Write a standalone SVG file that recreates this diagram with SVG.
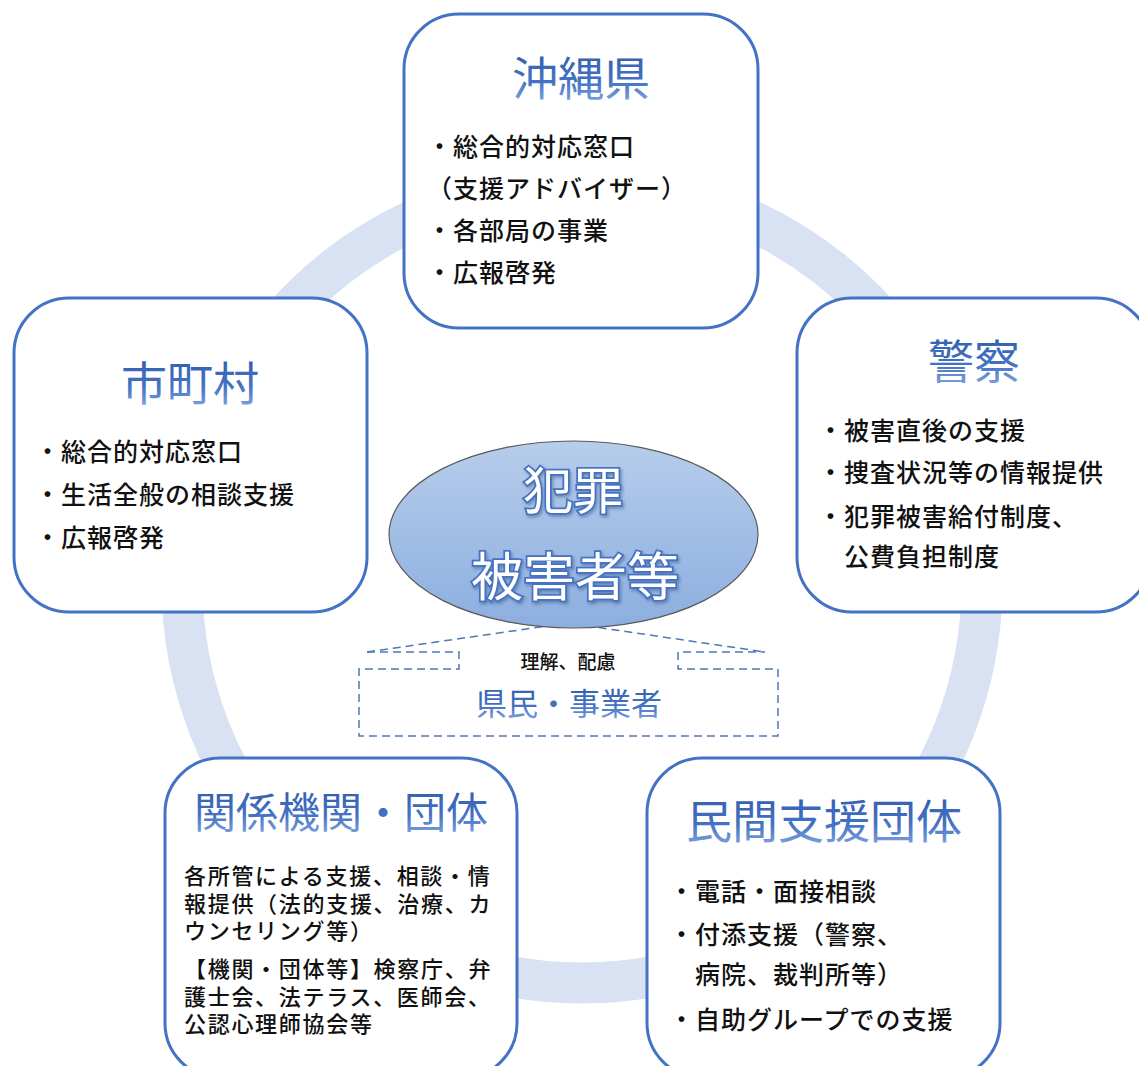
<svg xmlns="http://www.w3.org/2000/svg" width="1139" height="1066" viewBox="0 0 1139 1066">
<defs>
<linearGradient id="tg" x1="0" y1="0" x2="0" y2="1">
<stop offset="0" stop-color="#2c57a6"/>
<stop offset="0.6" stop-color="#4472c4"/>
<stop offset="1" stop-color="#8fb0e3"/>
</linearGradient>
<linearGradient id="eg" x1="0" y1="0" x2="0" y2="1">
<stop offset="0" stop-color="#b7cdeb"/>
<stop offset="1" stop-color="#8caee0"/>
</linearGradient>
<filter id="sh" x="-10%" y="-10%" width="130%" height="140%">
<feDropShadow dx="1.5" dy="2" stdDeviation="1.5" flood-color="#1f3864" flood-opacity="0.4"/>
</filter>
<style>
.box{fill:#fff;stroke:#4472c4;stroke-width:3}
.title{font-family:"Noto Sans CJK JP","Noto Sans CJK SC",sans-serif;fill:url(#tg);text-anchor:middle}
.body{font-family:"Noto Sans CJK JP","Noto Sans CJK SC",sans-serif;font-size:25px;font-weight:500;letter-spacing:1px;fill:#111}
.small{font-family:"Noto Sans CJK JP","Noto Sans CJK SC",sans-serif;font-size:22px;font-weight:500;letter-spacing:1.7px;fill:#111}
.center{font-family:"Noto Sans CJK JP","Noto Sans CJK SC",sans-serif;fill:#fff;stroke:#4472c4;stroke-width:3.5;paint-order:stroke;text-anchor:middle}
.dash{fill:none;stroke:#4f78b8;stroke-width:1.5;stroke-dasharray:8 5}
</style>
</defs>
<rect width="1139" height="1066" fill="#fff"/>
<circle cx="582" cy="583" r="400" fill="none" stroke="#d8e2f3" stroke-width="41"/>

<g id="connectors">
<path class="dash" d="M367,652 L568,623 L765,652"/>
<path class="dash" d="M367,652 H459 V669 H359 V736 H778 V669 H678 V652 H765"/>
</g>

<g id="okinawa">
<rect class="box" x="404" y="14" width="354" height="314" rx="55"/>
<text class="title" x="581" y="95" font-size="46">沖縄県</text>
<text class="body" x="427" y="156">・総合的対応窓口</text>
<text class="body" x="427" y="198">（支援アドバイザー）</text>
<text class="body" x="427" y="240">・各部局の事業</text>
<text class="body" x="427" y="282">・広報啓発</text>
</g>

<g id="shichoson">
<rect class="box" x="14" y="298" width="353" height="314" rx="55"/>
<text class="title" x="190" y="400" font-size="46">市町村</text>
<text class="body" x="35" y="461">・総合的対応窓口</text>
<text class="body" x="35" y="504">・生活全般の相談支援</text>
<text class="body" x="35" y="547">・広報啓発</text>
</g>

<g id="keisatsu">
<rect class="box" x="797" y="298" width="354" height="314" rx="55"/>
<text class="title" x="974" y="378" font-size="46">警察</text>
<text class="body" x="818" y="440">・被害直後の支援</text>
<text class="body" x="818" y="482">・捜査状況等の情報提供</text>
<text class="body" x="818" y="526">・犯罪被害給付制度、</text>
<text class="body" x="844" y="566">公費負担制度</text>
</g>

<g id="kankei">
<rect class="box" x="165" y="758" width="352" height="320" rx="55"/>
<text class="title" x="341" y="828" font-size="42">関係機関・団体</text>
<text class="small"><tspan x="184" y="884">各所管による支援、相談・情</tspan><tspan x="184" y="911.5">報提供（法的支援、治療、カ</tspan><tspan x="184" y="939">ウンセリング等）</tspan></text>
<text class="small"><tspan x="184" y="977">【機関・団体等】検察庁、弁</tspan><tspan x="184" y="1004.5">護士会、法テラス、医師会、</tspan><tspan x="184" y="1032">公認心理師協会等</tspan></text>
</g>

<g id="minkan">
<rect class="box" x="647" y="758" width="353" height="320" rx="55"/>
<text class="title" x="824" y="838" font-size="46">民間支援団体</text>
<text class="body" x="669" y="901">・電話・面接相談</text>
<text class="body" x="669" y="944">・付添支援（警察、</text>
<text class="body" x="695" y="984">病院、裁判所等）</text>
<text class="body" x="669" y="1029">・自助グループでの支援</text>
</g>

<g id="higaisha">
<ellipse cx="573.5" cy="534.5" rx="184.5" ry="93.5" fill="url(#eg)" stroke="#5a5a5a" stroke-width="1.2"/>
<text class="center" x="573" y="509" font-size="50" filter="url(#sh)">犯罪</text>
<text class="center" x="575" y="596" font-size="52" filter="url(#sh)">被害者等</text>
</g>

<g id="kenmin">
<text x="568" y="669" font-family="'Noto Sans CJK JP','Noto Sans CJK SC',sans-serif" font-size="19" font-weight="500" fill="#111" text-anchor="middle">理解、配慮</text>
<text class="title" x="569" y="715" font-size="31">県民・事業者</text>
</g>
</svg>
